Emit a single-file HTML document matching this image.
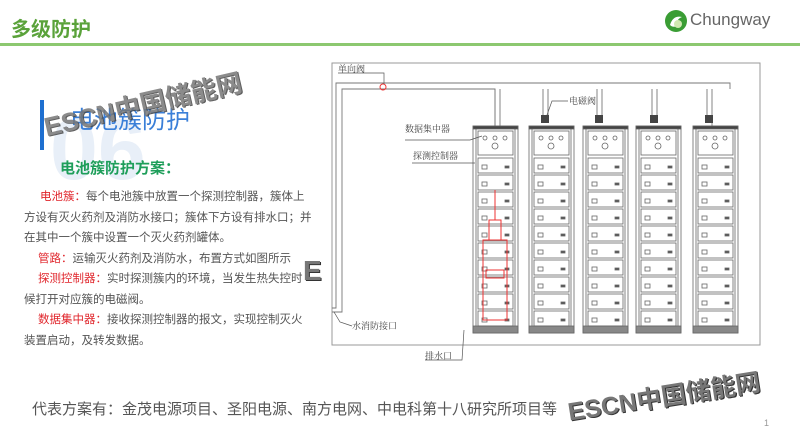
<!DOCTYPE html>
<html><head><meta charset="utf-8"><style>
body{margin:0;width:800px;height:448px;overflow:hidden;background:#fff;font-family:"Liberation Sans","Noto Sans CJK SC",sans-serif;position:relative}
.a{position:absolute;white-space:nowrap}
.p{font-size:11.5px;color:#555;line-height:20.5px}
.r{color:#e0262c}
</style></head><body>
<div class="a" style="left:11px;top:13px;font-size:20px;font-weight:bold;color:#5aa23a">多级防护</div>
<div class="a" style="left:0;top:43px;width:800px;height:3px;background:#8cc870"></div>
<svg class="a" style="left:663px;top:8px" width="26" height="26" viewBox="0 0 26 26"><circle cx="13" cy="13" r="11" fill="#3a9d34"/><path d="M7 17 Q10 7 19 9 Q13 11 14 18 Q10 20 7 17Z" fill="#fff"/><circle cx="15" cy="16" r="4" fill="#cfe8b0"/></svg>
<div class="a" style="left:690px;top:10px;font-size:17px;color:#666">Chungway</div>

<div class="a" style="left:40px;top:100px;width:4px;height:50px;background:#1e6fd0"></div>
<div class="a" style="left:50px;top:110px;font-size:86px;font-weight:bold;color:#e8eff8;line-height:80px">06</div>
<div class="a" style="left:70px;top:100px;font-size:24px;color:#3a7fd8">电池簇防护</div>
<div class="a" style="left:40px;top:108px;font-size:26px;font-weight:bold;color:#777;transform:rotate(-13deg);transform-origin:left top;opacity:.85;text-shadow:1px 1px 0 #444">ESCN中国储能网</div>
<div class="a" style="left:60px;top:157px;font-size:15px;font-weight:bold;color:#1e9e5a">电池簇防护方案：</div>
<div class="a p" style="left:24px;top:187px;white-space:normal;width:300px">
<div style="padding-left:16px"><span class="r">电池簇：</span>每个电池簇中放置一个探测控制器，簇体上</div>
<div>方设有灭火药剂及消防水接口；簇体下方设有排水口；并</div>
<div>在其中一个簇中设置一个灭火药剂罐体。</div>
<div style="padding-left:14px"><span class="r">管路：</span>运输灭火药剂及消防水，布置方式如图所示</div>
<div style="padding-left:14px"><span class="r">探测控制器：</span>实时探测簇内的环境，当发生热失控时</div>
<div>候打开对应簇的电磁阀。</div>
<div style="padding-left:14px"><span class="r">数据集中器：</span>接收探测控制器的报文，实现控制灭火</div>
<div>装置启动，及转发数据。</div>
</div>
<div class="a" style="left:303px;top:255px;font-size:28px;font-weight:bold;color:#777;text-shadow:1px 1px 0 #333">E</div>

<svg class="a" style="left:0;top:0" width="800" height="448">
<defs>
<g id="cab" fill="none" stroke="#666" stroke-width="0.8">
<rect x="0" y="0" width="45" height="207" fill="#fff"/>
<rect x="0" y="0" width="45" height="3" fill="#444"/>
<rect x="0" y="200" width="45" height="7" fill="#888"/>
<line x1="3" y1="3" x2="3" y2="200"/><line x1="42" y1="3" x2="42" y2="200"/>
<rect x="5" y="5" width="35" height="24"/>
<circle cx="12" cy="12" r="2"/><circle cx="22" cy="12" r="2"/><circle cx="32" cy="12" r="2"/><circle cx="22" cy="20" r="3"/>
<g id="m"><rect x="5" y="32" width="35" height="15"/><rect x="9" y="39" width="5" height="4"/><rect x="32" y="40" width="4" height="2" fill="#555"/></g>
<use href="#m" y="17"/><use href="#m" y="34"/><use href="#m" y="51"/><use href="#m" y="68"/><use href="#m" y="85"/><use href="#m" y="102"/><use href="#m" y="119"/><use href="#m" y="136"/><use href="#m" y="153"/>
</g>
</defs>
<rect x="332" y="63" width="428" height="282" fill="none" stroke="#999" stroke-width="1"/>
<g stroke="#777" fill="none" stroke-width="0.9">
<polyline points="332,308 336,308 336,83 730,83 730,89"/>
<polyline points="332,312 342,312 342,89 495,89 495,150"/>
<line x1="495" y1="89" x2="495" y2="128"/>
<line x1="500" y1="89" x2="500" y2="310"/>
<line x1="543" y1="89" x2="543" y2="115"/><line x1="548" y1="89" x2="548" y2="115"/>
<line x1="597" y1="89" x2="597" y2="115"/><line x1="602" y1="89" x2="602" y2="115"/>
<line x1="652" y1="89" x2="652" y2="115"/><line x1="657" y1="89" x2="657" y2="115"/>
<line x1="707" y1="89" x2="707" y2="115"/><line x1="712" y1="89" x2="712" y2="315"/>
</g>
<circle cx="383" cy="87" r="3" fill="none" stroke="#e33"/>
<g fill="#444"><rect x="541" y="115" width="8" height="8"/><rect x="595" y="115" width="8" height="8"/><rect x="650" y="115" width="8" height="8"/><rect x="705" y="115" width="8" height="8"/></g>
<use href="#cab" x="473" y="126"/><use href="#cab" x="529" y="126"/><use href="#cab" x="583" y="126"/><use href="#cab" x="636" y="126"/><use href="#cab" x="693" y="126"/>
<g stroke="#e33" fill="none" stroke-width="1"><line x1="495" y1="190" x2="495" y2="220"/><rect x="489" y="220" width="12" height="20"/><rect x="483" y="240" width="24" height="80"/><rect x="486" y="270" width="18" height="8"/></g>
<g stroke="#555" fill="none" stroke-width="0.7">
<polyline points="338,73 384,73 384,84"/>
<polyline points="568,101 552,101 547,115"/>
<polyline points="405,140 470,140 482,136"/>
<polyline points="412,163 475,163"/>
<polyline points="334,312 340,322 352,326"/>
<polyline points="425,360 462,360 464,330"/>
</g>
<g font-size="9" fill="#444" font-family="Liberation Serif,Noto Serif CJK SC,serif">
<text x="338" y="72">单向阀</text><text x="569" y="104">电磁阀</text>
<text x="405" y="132">数据集中器</text><text x="413" y="159">探测控制器</text>
<text x="352" y="329">水消防接口</text><text x="425" y="359">排水口</text>
</g>
</svg>
<div class="a" style="left:32px;top:398px;font-size:15px;color:#555">代表方案有：金茂电源项目、圣阳电源、南方电网、中电科第十八研究所项目等</div>
<div class="a" style="left:565px;top:393px;font-size:25px;font-weight:bold;color:#777;transform:rotate(-9deg);transform-origin:left top;text-shadow:1px 1px 0 #333">ESCN中国储能网</div>
<div class="a" style="left:764px;top:418px;font-size:9px;color:#999">1</div>
</body></html>
